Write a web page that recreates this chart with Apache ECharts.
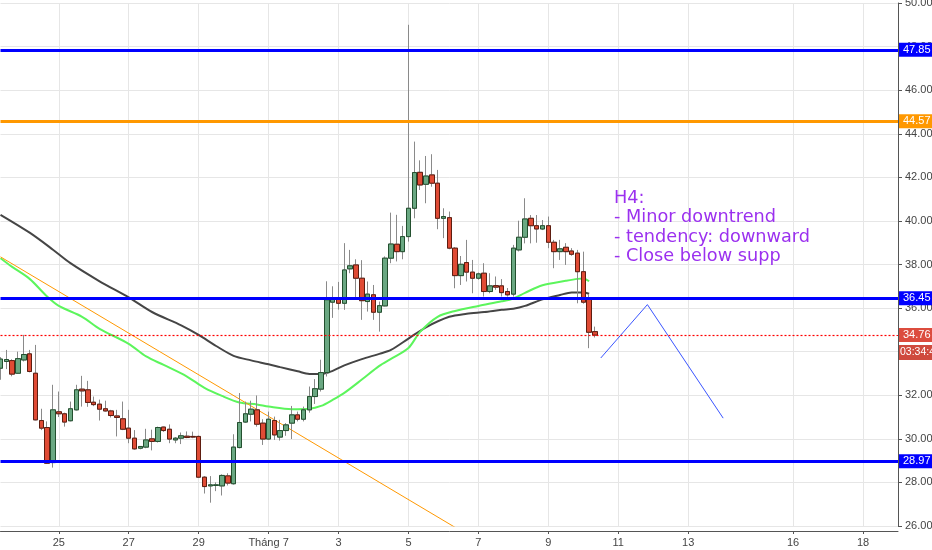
<!DOCTYPE html>
<html><head><meta charset="utf-8">
<script src="https://cdn.jsdelivr.net/npm/echarts@6/dist/echarts.min.js"></script>
<style>html,body{margin:0;padding:0;background:#fff}#c{width:932px;height:550px}</style>
</head><body><div id="c"></div>
<script>
// ---- data (H4 candles, index 0 = 23 Jun 08:00) ----
const opens  = [33.24,33.55,33.59,33.01,33.62,33.9,33.01,30.84,30.52,28.91,31.24,31.15,30.83,31.33,32.28,32.25,31.68,31.59,31.38,31.28,31.05,30.92,30.49,30.03,29.57,29.62,30.0,29.88,30.54,30.44,29.95,30.03,30.12,30.11,30.11,28.24,27.84,27.86,27.84,28.3,27.94,29.6,30.77,31.13,31.33,30.72,29.99,30.84,30.08,30.38,30.72,31.1,30.9,31.33,31.94,32.28,33.04,36.27,36.42,36.22,37.8,37.98,37.37,36.3,36.61,35.81,36.1,38.29,38.93,38.59,39.28,40.58,42.23,41.68,42.11,41.73,40.12,40.15,38.75,37.49,38.09,37.65,37.37,37.6,36.76,37.03,37.02,36.76,36.64,38.67,39.25,40.12,39.78,39.63,39.78,39.02,38.59,38.79,38.62,38.52,37.67,36.41,34.92];
const closes = [33.66,33.64,32.97,33.68,33.87,33.09,30.87,30.49,28.88,31.33,31.15,30.77,31.38,32.25,32.2,31.67,31.57,31.36,31.28,31.07,30.98,30.44,30.03,29.54,29.65,29.95,29.88,30.52,30.38,29.99,30.03,30.14,30.06,30.08,28.24,27.81,27.89,27.89,28.32,27.97,29.62,30.75,31.15,31.36,30.67,29.99,30.9,30.18,30.38,30.64,31.1,30.9,31.33,31.94,32.3,33.04,36.38,36.42,36.22,37.75,37.94,37.37,36.34,36.64,35.81,36.11,38.29,38.94,38.59,39.28,40.58,42.22,41.65,42.06,41.73,40.12,40.2,38.75,37.49,38.01,37.65,37.37,37.57,36.76,37.02,36.96,36.71,36.61,38.75,39.25,40.09,39.78,39.63,39.78,39.02,38.59,38.72,38.59,38.47,37.67,36.27,34.89,34.76];
const lows   = [32.71,33.2,32.87,32.98,33.55,33.05,30.85,30.4,28.85,28.68,31.0,30.56,30.8,31.3,31.48,31.47,31.5,30.84,31.25,30.98,30.11,30.4,29.8,29.5,29.52,29.57,29.47,29.83,30.32,29.8,29.8,29.76,30.03,30.03,28.2,27.49,27.07,27.6,27.4,27.86,27.9,29.56,30.73,30.8,30.56,29.72,29.95,29.95,29.92,30.14,29.99,30.8,30.8,31.2,31.6,32.17,32.86,35.55,35.93,35.92,37.6,36.38,35.46,35.84,35.46,34.92,36.08,38.06,38.14,38.24,39.05,40.12,41.42,40.81,41.57,39.62,39.21,38.7,36.91,37.06,37.22,36.68,37.3,36.53,36.68,36.84,36.53,36.53,36.53,38.6,38.97,38.97,39.0,39.58,38.75,37.83,38.21,37.98,38.4,36.22,36.2,34.16,34.65];
const highs  = [33.75,34.08,33.65,34.0,34.77,34.08,34.31,31.38,30.8,32.48,32.17,31.2,31.71,32.48,32.89,32.66,31.94,31.8,31.75,31.33,31.33,31.71,31.33,30.4,29.67,30.46,30.42,30.56,30.56,30.66,30.08,30.29,30.34,30.33,30.15,28.29,28.29,28.0,28.37,28.42,30.21,32.1,31.71,31.75,31.99,30.9,31.25,31.02,30.87,30.72,31.51,31.25,31.48,32.4,32.74,33.63,37.23,37.0,37.2,38.98,38.67,38.24,38.2,37.22,37.06,36.3,38.37,40.38,40.28,39.77,49.0,43.64,42.78,42.98,43.06,42.34,40.58,40.43,38.8,38.39,39.13,38.21,37.63,38.06,37.6,37.45,37.33,36.92,38.9,40.01,41.04,40.27,40.27,40.04,40.2,39.13,39.13,38.98,38.75,38.67,38.59,36.61,35.15];

// moving averages at sample candles
const maFastIdx = [0,2,5,8,10,14,17,22,25,28,32,35,38,41,44,46,50,53,55,57,59,62,65,67,70,72,75,78,82,86,88,90,93,97,99,100,101];
const maFastVal = [38.29,37.89,37.34,36.53,36.1,35.6,35.05,34.36,33.78,33.39,32.86,32.34,31.97,31.67,31.58,31.48,31.36,31.38,31.51,31.79,32.11,32.72,33.35,33.67,34.17,34.91,35.6,35.87,36.1,36.31,36.44,36.7,37.05,37.25,37.34,37.36,37.23];
const maSlowIdx = [0,5,9,12,17,22,26,31,34,37,40,43,46,48,51,53,55,57,59,62,65,67,70,73,77,80,83,86,88,90,93,96,98,100,101];
const maSlowVal = [40.28,39.46,38.68,38.06,37.23,36.49,35.82,35.21,34.77,34.26,33.81,33.6,33.42,33.29,33.1,32.98,32.97,33.12,33.37,33.66,33.9,34.08,34.6,35.12,35.6,35.74,35.82,35.92,35.97,36.1,36.4,36.6,36.72,36.72,36.66];

const trendIdx = [0, 80];
const trendVal = [38.35, 25.62];
const pathIdx = [103, 111, 124];
const pathVal = [33.71, 36.16, 30.95];

const blueLevels = [47.85, 36.45, 28.97];
const orangeLevel = 44.57;
const lastPrice = 34.76;
const countdown = '03:34:4';

const dayLabelDates = ['06-25','06-27','06-29','07-01','07-03','07-05','07-07','07-09','07-11','07-13','07-16','07-18'];
const dayLabels = ['25','27','29','Tháng 7','3','5','7','9','11','13','16','18'];
const noteLines = ['H4:', '- Minor downtrend', '- tendency: downward', '- Close below supp'];

// ---- categories: 4-hour slots ----
const slotCount = 155;
const t0 = Date.UTC(2018, 5, 23, 8);
const pad = n => (n < 10 ? '0' : '') + n;
const cats = [];
for (let i = 0; i < slotCount; i++) {
  const d = new Date(t0 + i * 4 * 3600 * 1000);
  cats.push(pad(d.getUTCMonth() + 1) + '-' + pad(d.getUTCDate()) + ' ' + pad(d.getUTCHours()) + ':00');
}
const isDayMark = (idx) => {
  const v = cats[idx];
  return v.endsWith(' 00:00') && dayLabelDates.indexOf(v.slice(0, 5)) >= 0;
};

const wickData = opens.map((o, i) => [o, closes[i], lows[i], highs[i]]);
const bodyData = opens.map((o, i) => [o, closes[i], Math.min(o, closes[i]), Math.max(o, closes[i])]);
const pairs = (a, b) => a.map((x, i) => [x, b[i]]);

const lvlLabel = (bg) => ({
  show: true, position: 'end', distance: 1,
  formatter: p => p.value.toFixed(2),
  backgroundColor: bg, color: '#fff', padding: [2, 4, 1, 4],
  fontSize: 11, fontFamily: 'Liberation Sans'
});
const markData = blueLevels.map(v => ({
  yAxis: v, lineStyle: { color: '#0000ff', width: 3, type: 'solid' }, label: lvlLabel('#0000ff')
}));
markData.push({ yAxis: orangeLevel, lineStyle: { color: '#ff9800', width: 3, type: 'solid' }, label: lvlLabel('#ff9800') });
markData.push({ yAxis: lastPrice, lineStyle: { color: '#ff0000', width: 1.2, type: [2, 2] }, label: lvlLabel('#dc4c3e') });

const chart = echarts.init(document.getElementById('c'), null, { renderer: 'canvas', devicePixelRatio: 1 });
chart.setOption({
  animation: false,
  backgroundColor: '#ffffff',
  grid: { left: 0.5, right: 34, top: 3, bottom: 24, containLabel: false, outerBoundsMode: 'none' },
  xAxis: {
    type: 'category', data: cats, boundaryGap: false, offset: 5,
    axisLine: { show: true, onZero: false, lineStyle: { color: '#555', width: 1 } },
    axisTick: { show: true, interval: isDayMark, length: 3, lineStyle: { color: '#555' } },
    axisLabel: {
      interval: isDayMark, margin: 6, color: '#444', fontSize: 11, fontFamily: 'Liberation Sans',
      formatter: v => dayLabels[dayLabelDates.indexOf(v.slice(0, 5))]
    },
    splitLine: { show: true, interval: isDayMark, lineStyle: { color: '#e6e6e6', width: 1 } }
  },
  yAxis: {
    type: 'value', position: 'right', min: 26, max: 50, interval: 2, scale: true,
    axisLine: { show: true, lineStyle: { color: '#555', width: 1 } },
    axisTick: { show: true, length: 4, lineStyle: { color: '#555' } },
    axisLabel: { margin: 7, color: '#444', fontSize: 11, fontFamily: 'Liberation Sans', formatter: v => v.toFixed(2) },
    splitLine: { show: true, lineStyle: { color: '#e6e6e6', width: 1 } }
  },
  series: [
    { type: 'line', data: pairs(maSlowIdx, maSlowVal), smooth: 0.3, symbol: 'none', z: 2,
      lineStyle: { color: '#454545', width: 2 } },
    { type: 'line', data: pairs(maFastIdx, maFastVal), smooth: 0.3, symbol: 'none', z: 2,
      lineStyle: { color: '#5cf55c', width: 2 } },
    { type: 'line', data: pairs(trendIdx, trendVal), symbol: 'none', z: 2,
      lineStyle: { color: '#ff9800', width: 1 } },
    { type: 'line', data: pairs(pathIdx, pathVal), symbol: 'none', z: 2,
      lineStyle: { color: '#3a55ff', width: 1 } },
    { type: 'candlestick', data: wickData, barWidth: 5, z: 3, silent: true,
      itemStyle: { color: 'rgba(0,0,0,0)', color0: 'rgba(0,0,0,0)', borderColor: '#8a8a8a', borderColor0: '#8a8a8a', borderWidth: 1 } },
    { type: 'candlestick', data: bodyData, barWidth: 5, z: 4, silent: true,
      itemStyle: { color: '#6aa882', color0: '#e04b35', borderColor: '#23502f', borderColor0: '#5e1d10', borderWidth: 1 },
      markLine: { symbol: ['none', 'none'], silent: true, animation: false, z: 5, data: markData } }
  ],
  graphic: [
    { type: 'rect', left: 899, top: 345, z: 10, shape: { width: 40, height: 15 }, style: { fill: '#cf4a3d' } },
    { type: 'text', left: 900, top: 347, z: 11, style: { text: countdown, fill: '#fff', font: '10.5px "Liberation Sans"' } },
    { type: 'text', left: 614, top: 189, z: 11,
      style: { text: noteLines.join('\n'), fill: '#9b30ef', font: '17.7px "DejaVu Sans"', lineHeight: 19.2 } }
  ]
});
</script></body></html>
